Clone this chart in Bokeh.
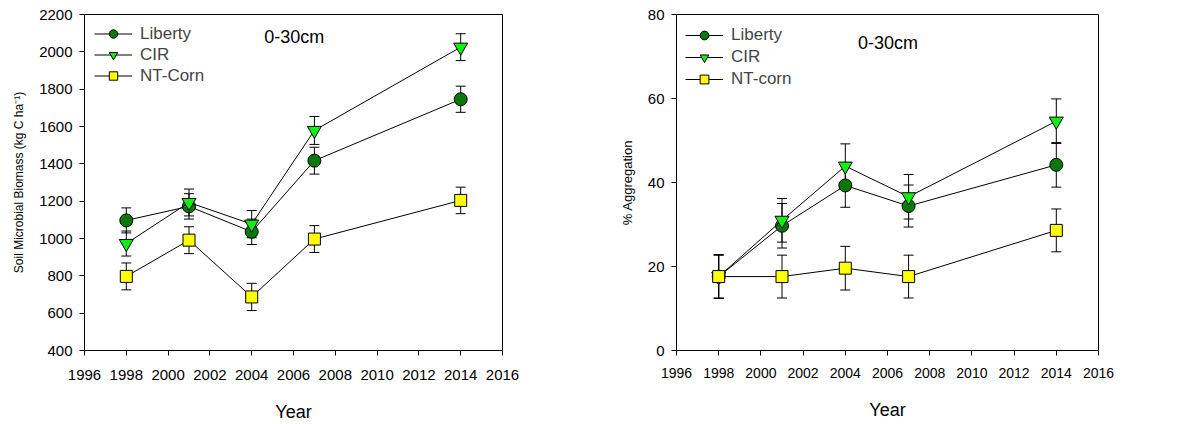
from bokeh.plotting import figure
from bokeh.models import (Range1d, FixedTicker, ColumnDataSource, Whisker, TeeHead,
                          Legend, LegendItem, Label)
from bokeh.layouts import row
from bokeh.embed import file_html
from bokeh.resources import INLINE

# ---------------- data ----------------
years = [1998, 2001, 2004, 2007, 2014]

# Soil microbial biomass (kg C ha-1), 0-30 cm
mb_liberty = [1097, 1172, 1036, 1417, 1746]
mb_liberty_err = [67, 68, 68, 72, 70]
mb_cir = [973, 1193, 1077, 1579, 2025]
mb_cir_err = [67, 72, 73, 75, 72]
mb_nt = [797, 991, 687, 997, 1204]
mb_nt_err = [72, 72, 73, 72, 71]

# % Aggregation, 0-30 cm
agg_liberty = [17.6, 29.7, 39.3, 34.4, 44.2]
agg_liberty_err = [5.2, 5.3, 5.2, 5.0, 5.3]
agg_cir = [17.6, 31.0, 43.9, 36.6, 54.6]
agg_cir_err = [5.2, 5.2, 5.3, 5.3, 5.3]
agg_nt = [17.6, 17.6, 19.6, 17.6, 28.6]
agg_nt_err = [5.1, 5.1, 5.2, 5.1, 5.1]

x_ticks = [1996, 1998, 2000, 2002, 2004, 2006, 2008, 2010, 2012, 2014, 2016]
mb_ticks = [400, 600, 800, 1000, 1200, 1400, 1600, 1800, 2000, 2200]
agg_ticks = [0, 20, 40, 60, 80]

FONT = "Liberation Sans"
C_LIB = "#0A780A"
C_CIR = "#11EE11"
C_NT = "#FFFF00"


def panel(series, labels, ylab, yr, yticks, ylab_size, width, borders, leg_pitch,
          leg_xy, text_xy, xtick_size, xstand):
    p = figure(width=width, height=424, output_backend="svg", toolbar_location=None,
               x_range=Range1d(1996, 2016), y_range=Range1d(*yr),
               min_border_top=14, min_border_bottom=borders[2],
               min_border_left=borders[0], min_border_right=borders[1])
    p.grid.visible = False
    p.outline_line_color = "black"
    p.outline_line_width = 1
    p.background_fill_color = "white"
    p.border_fill_color = "white"

    for ax, ticks in ((p.xaxis[0], x_ticks), (p.yaxis[0], yticks)):
        ax.ticker = FixedTicker(ticks=ticks)
        ax.minor_tick_line_color = None
        ax.major_tick_in = 0
        ax.major_tick_out = 5
        ax.axis_line_color = "black"
        ax.major_tick_line_color = "black"
        ax.major_label_text_font = FONT
        ax.major_label_text_color = "black"
        ax.axis_label_text_font = FONT
        ax.axis_label_text_font_style = "normal"
        ax.axis_label_text_color = "black"
    p.xaxis.major_label_text_font_size = xtick_size
    p.yaxis.major_label_text_font_size = "15px"
    p.xaxis.major_label_standoff = xstand[0]
    p.yaxis.major_label_standoff = 7
    p.xaxis.axis_label = "Year"
    p.xaxis.axis_label_text_font_size = "18px"
    p.xaxis.axis_label_standoff = xstand[1]
    p.yaxis.axis_label = ylab
    p.yaxis.axis_label_text_font_size = ylab_size
    p.yaxis.axis_label_standoff = 10

    items = []
    for (vals, errs, marker, size, color), lab in zip(series, labels):
        src = ColumnDataSource(dict(x=years, y=vals,
                                    lo=[v - e for v, e in zip(vals, errs)],
                                    hi=[v + e for v, e in zip(vals, errs)]))
        w = Whisker(source=src, base="x", lower="lo", upper="hi",
                    line_color="black", line_width=1,
                    upper_head=TeeHead(size=10, line_color="black", line_width=1),
                    lower_head=TeeHead(size=10, line_color="black", line_width=1))
        p.add_layout(w)
        lr = p.line("x", "y", source=src, line_color="black", line_width=1)
        sr = p.scatter("x", "y", source=src, marker=marker, size=size,
                       fill_color=color, line_color="black", line_width=1)
        items.append(LegendItem(label=lab, renderers=[lr, sr]))

    leg = Legend(items=items, location=(leg_xy[0], leg_xy[1]),
                 padding=0, margin=0, spacing=0,
                 glyph_width=38, glyph_height=leg_pitch, label_height=leg_pitch,
                 label_standoff=8,
                 label_text_font=FONT, label_text_font_size="17px",
                 border_line_alpha=0, background_fill_alpha=0)
    p.add_layout(leg)

    p.add_layout(Label(x=text_xy[0], y=text_xy[1], text="0-30cm",
                       text_font=FONT, text_font_size="18px",
                       text_baseline="middle", text_align="left",
                       text_color="black"))
    return p


p1 = panel(
    [(mb_liberty, mb_liberty_err, "circle", 13, C_LIB),
     (mb_cir, mb_cir_err, "inverted_triangle", 14, C_CIR),
     (mb_nt, mb_nt_err, "square", 12, C_NT)],
    ["Liberty", "CIR", "NT-Corn"],
    "Soil Microbial Biomass (kg C ha\u207b\u00b9)", (400, 2200), mb_ticks, "12px",
    590, (84, 88, 74), 21, (10, 264, 0, 0), (2004.6, 2082), "15px", (14, 19))

p2 = panel(
    [(agg_liberty, agg_liberty_err, "circle", 13, C_LIB),
     (agg_cir, agg_cir_err, "inverted_triangle", 14, C_CIR),
     (agg_nt, agg_nt_err, "square", 12, C_NT)],
    ["Liberty", "CIR", "NT-corn"],
    "% Aggregation", (0, 80), agg_ticks, "13px",
    586, (86, 78, 71), 22, (9, 260, 0, 0), (2004.6, 73.1), "14px", (12, 19))

layout = row(p1, p2)
open("out.html", "w").write(file_html(layout, INLINE))
